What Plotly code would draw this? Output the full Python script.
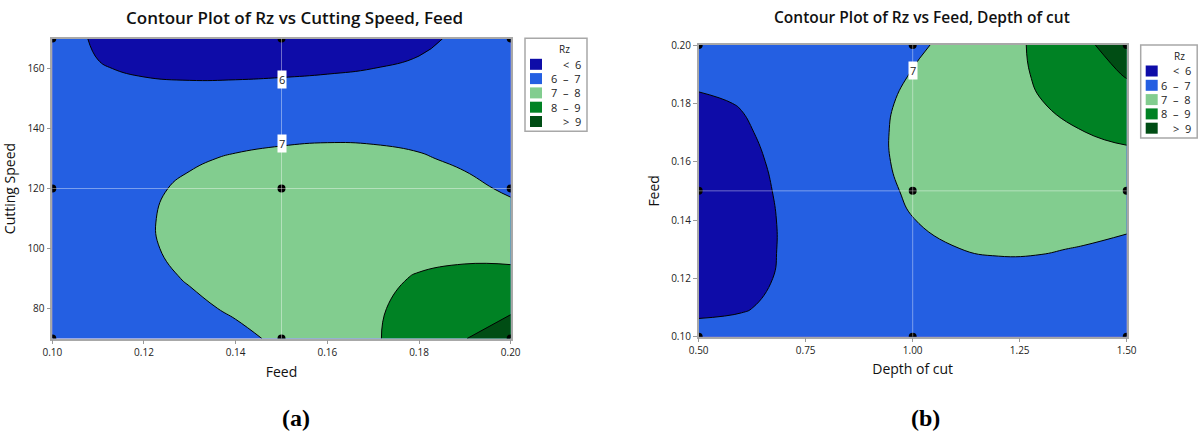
import numpy as np
import plotly.graph_objects as go

# ---------------- data ----------------
# design points (3-level factors)
feed_levels = [0.10, 0.15, 0.20]
speed_levels = [70, 120, 170]
depth_levels = [0.50, 1.00, 1.50]

# (a) Rz over Feed (columns) x Cutting Speed (rows)
feed_grid = [0.10, 0.11, 0.12, 0.13, 0.14, 0.15, 0.16, 0.17, 0.18, 0.19, 0.20]
speed_grid = [70, 80, 90, 100, 110, 120, 130, 140, 150, 160, 170]
rz_a = [
    [6.36, 6.39, 6.48, 6.63, 6.84, 7.12, 7.48, 7.91, 8.41, 8.97, 9.58],
    [6.27, 6.46, 6.65, 6.86, 7.09, 7.34, 7.61, 7.91, 8.22, 8.54, 8.85],
    [6.24, 6.54, 6.80, 7.05, 7.28, 7.50, 7.70, 7.88, 8.04, 8.16, 8.24],
    [6.24, 6.60, 6.91, 7.17, 7.39, 7.58, 7.72, 7.81, 7.85, 7.83, 7.72],
    [6.25, 6.62, 6.93, 7.19, 7.40, 7.55, 7.64, 7.67, 7.63, 7.50, 7.27],
    [6.26, 6.60, 6.88, 7.11, 7.29, 7.41, 7.47, 7.46, 7.37, 7.18, 6.89],
    [6.24, 6.51, 6.74, 6.92, 7.06, 7.15, 7.19, 7.17, 7.07, 6.87, 6.57],
    [6.22, 6.38, 6.51, 6.63, 6.73, 6.79, 6.83, 6.81, 6.74, 6.59, 6.34],
    [6.22, 6.21, 6.23, 6.26, 6.30, 6.35, 6.39, 6.41, 6.40, 6.34, 6.21],
    [6.24, 6.04, 5.91, 5.83, 5.82, 5.85, 5.91, 6.00, 6.10, 6.18, 6.22],
    [6.34, 5.90, 5.59, 5.39, 5.31, 5.33, 5.44, 5.62, 5.86, 6.13, 6.41],
]

# (b) Rz over Depth of cut (columns) x Feed (rows)
depth_grid = [0.5, 0.6, 0.7, 0.8, 0.9, 1.0, 1.1, 1.2, 1.3, 1.4, 1.5]
feed_grid_b = [0.10, 0.11, 0.12, 0.13, 0.14, 0.15, 0.16, 0.17, 0.18, 0.19, 0.20]
rz_b = [
    [6.25, 6.18, 6.19, 6.23, 6.28, 6.32, 6.35, 6.35, 6.34, 6.33, 6.34],
    [5.85, 5.96, 6.11, 6.28, 6.42, 6.53, 6.60, 6.61, 6.59, 6.54, 6.48],
    [5.57, 5.81, 6.07, 6.32, 6.54, 6.71, 6.81, 6.84, 6.82, 6.75, 6.65],
    [5.39, 5.72, 6.06, 6.38, 6.65, 6.86, 6.99, 7.05, 7.04, 6.97, 6.87],
    [5.32, 5.69, 6.07, 6.43, 6.74, 6.99, 7.15, 7.24, 7.25, 7.20, 7.12],
    [5.35, 5.72, 6.11, 6.49, 6.82, 7.08, 7.28, 7.40, 7.45, 7.45, 7.43],
    [5.46, 5.80, 6.16, 6.53, 6.86, 7.15, 7.37, 7.53, 7.65, 7.72, 7.78],
    [5.65, 5.91, 6.22, 6.55, 6.87, 7.16, 7.42, 7.64, 7.82, 7.99, 8.17],
    [5.89, 6.03, 6.26, 6.54, 6.83, 7.13, 7.42, 7.70, 7.98, 8.27, 8.61],
    [6.17, 6.17, 6.28, 6.48, 6.74, 7.03, 7.36, 7.71, 8.10, 8.55, 9.07],
    [6.47, 6.28, 6.25, 6.35, 6.56, 6.85, 7.22, 7.66, 8.18, 8.80, 9.55],
]

legend_title = "Rz"
band_labels = ["<  6", "6  \u2013  7", "7  \u2013  8", "8  \u2013  9", ">  9"]
contour_levels = [6, 7, 8, 9]
hold_a = (0.15, 120)
hold_b = (1.00, 0.15)
label_a = [("6", 156.2), ("7", 135.0)]
label_b = [("7", 0.1914)]

# ---------------- style ----------------
band_colors = ["#0E0CA8", "#245FE2", "#82CD8F", "#008224", "#004D14"]
cs = []
pos = [0, 0.125, 0.375, 0.625, 0.875, 1]
for i, c in enumerate(band_colors):
    cs.append([pos[i], c])
    cs.append([pos[i + 1], c])

W, H = 1198, 435
def pxx(px):
    return px / W
def pxy(py):
    return (H - py) / H

FONT = "Open Sans"
fig = go.Figure()

def add_panel(xg, yg, z, xa, ya, lvx, lvy):
    fig.add_trace(go.Contour(
        x=xg, y=yg, z=z, xaxis=xa, yaxis=ya, autocontour=False,
        contours=dict(start=contour_levels[0], end=contour_levels[-1], size=1,
                      coloring='fill', showlines=True),
        line=dict(color='black', width=1, smoothing=1.3), colorscale=cs, showscale=False,
        showlegend=False, hoverinfo='skip'))
    px_, py_ = np.meshgrid(lvx, lvy)
    fig.add_trace(go.Scatter(
        x=px_.ravel(), y=py_.ravel(), mode='markers', xaxis=xa, yaxis=ya,
        marker=dict(color='black', size=8), showlegend=False, hoverinfo='skip'))

add_panel(feed_grid, speed_grid, rz_a, 'x', 'y', feed_levels, speed_levels)
add_panel(depth_grid, feed_grid_b, rz_b, 'x2', 'y2', depth_levels, feed_levels)

tickfont = dict(family=FONT, size=10, color="#222")
axcommon = dict(ticks='outside', ticklen=4, tickcolor='#999', showline=True, linecolor='#a8a8a8',
                linewidth=1.5, mirror=True, showgrid=False, zeroline=False, tickfont=tickfont,
                automargin=False)
titlefont = dict(family=FONT, size=14, color='#111')
fig.update_layout(
    template='none',
    width=W, height=H, margin=dict(l=0, r=0, t=0, b=0), plot_bgcolor='white', paper_bgcolor='white',
    showlegend=False,
    xaxis=dict(domain=[pxx(52.3), pxx(510.7)], range=[0.10, 0.20],
               tickvals=[0.10, 0.12, 0.14, 0.16, 0.18, 0.20], tickformat='.2f', anchor='y',
               title=dict(text='Feed', font=titlefont, standoff=9), **axcommon),
    yaxis=dict(domain=[pxy(338.5), pxy(38.5)], range=[70, 170], tickvals=[80, 100, 120, 140, 160],
               anchor='x', title=dict(text='Cutting Speed', font=titlefont, standoff=10), **axcommon),
    xaxis2=dict(domain=[pxx(698.7), pxx(1126.7)], range=[0.5, 1.5],
                tickvals=[0.5, 0.75, 1.0, 1.25, 1.5], tickformat='.2f', anchor='y2',
                title=dict(text='Depth of cut', font=titlefont, standoff=8), **axcommon),
    yaxis2=dict(domain=[pxy(336.7), pxy(45)], range=[0.10, 0.20],
                tickvals=[0.10, 0.12, 0.14, 0.16, 0.18, 0.20], tickformat='.2f', anchor='x2',
                title=dict(text='Feed', font=titlefont, standoff=8), **axcommon),
)

for xa, ya, (hx, hy) in [('x', 'y', hold_a), ('x2', 'y2', hold_b)]:
    fig.add_shape(type='line', xref=xa, yref=ya + ' domain', x0=hx, x1=hx, y0=0, y1=1,
                  line=dict(color='rgba(255,255,255,0.4)', width=1))
    fig.add_shape(type='line', xref=xa + ' domain', yref=ya, x0=0, x1=1, y0=hy, y1=hy,
                  line=dict(color='rgba(255,255,255,0.4)', width=1))

for xa, ya, hx, labs in [('x', 'y', hold_a[0], label_a), ('x2', 'y2', hold_b[0], label_b)]:
    for t, ly in labs:
        fig.add_annotation(x=hx, y=ly, xref=xa, yref=ya, text=t, showarrow=False, bgcolor='white',
                           font=dict(family=FONT, size=11, color='#222'), borderpad=1)

# legends (Minitab style boxes)
def add_legend(left, top, width):
    fig.add_shape(type='rect', xref='paper', yref='paper', x0=pxx(left), x1=pxx(left + width),
                  y0=pxy(top + 93), y1=pxy(top), line=dict(color='#a8a8a8', width=1.5),
                  fillcolor='white', layer='above')
    fig.add_annotation(x=pxx(left + 39), y=pxy(top + 11), xref='paper', yref='paper',
                       text=legend_title, showarrow=False, xanchor='center', yanchor='middle',
                       font=dict(family=FONT, size=10, color='#222'))
    for i, (c, lab) in enumerate(zip(band_colors, band_labels)):
        cy = top + 26 + 14.3 * i
        fig.add_shape(type='rect', xref='paper', yref='paper', x0=pxx(left + 5), x1=pxx(left + 17),
                      y0=pxy(cy + 5.5), y1=pxy(cy - 5.5), line=dict(width=0), fillcolor=c,
                      layer='above')
        fig.add_annotation(x=pxx(left + width - 4), y=pxy(cy), xref='paper', yref='paper',
                           text=lab, showarrow=False, xanchor='right', yanchor='middle',
                           font=dict(family=FONT, size=11, color='#222'))

add_legend(525, 38.3, 62)
add_legend(1140.7, 45, 56.5)

titles = [(294, 'Contour Plot of Rz vs Cutting Speed, Feed', 17),
          (922, 'Contour Plot of Rz vs Feed, Depth of cut', 15.5)]
for cx, t, fs in titles:
    fig.add_annotation(x=pxx(cx), y=pxy(17), xref='paper', yref='paper', text=t, showarrow=False,
                       font=dict(family=FONT, size=fs, color='#111', weight=600),
                       xanchor='center', yanchor='middle')
for cx, t in [(296, '(a)'), (925, '(b)')]:
    fig.add_annotation(x=pxx(cx), y=pxy(418), xref='paper', yref='paper', text=t, showarrow=False,
                       font=dict(family='Liberation Serif', size=24, color='#000', weight='bold'),
                       xanchor='center', yanchor='middle')

fig.write_html("out.html", config={'displayModeBar': False},
               post_script="document.body.style.margin='0';document.body.style.overflow='hidden';")
